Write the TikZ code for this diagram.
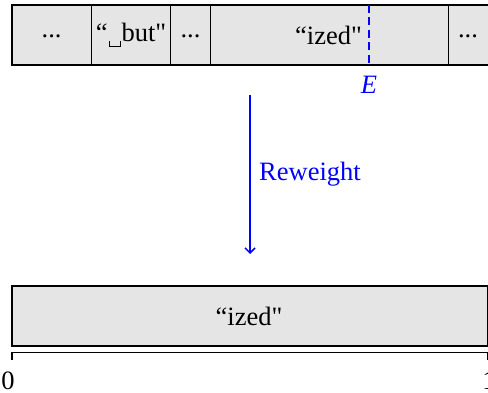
\documentclass[tikz,border=0pt]{standalone}
\usepackage{fontspec}
\setmainfont{Liberation Serif}
\usetikzlibrary{arrows.meta}
\newcommand{\vspc}{\raisebox{-0.22em}{\kern0.04em\rule{0.045em}{0.22em}\rule{0.38em}{0.045em}\rule{0.045em}{0.22em}\kern0.02em}}
\newcommand{\dq}{\textquotedbl}
\begin{document}
\begin{tikzpicture}[x=1pt,y=-1pt,
  tok/.style={draw=black,line width=1.4pt,fill=black!10},
  lbl/.style={font=\fontsize{26.5}{30}\selectfont,inner sep=0pt},
  blu/.style={font=\fontsize{26.5}{30}\selectfont,inner sep=0pt,text=blue}]
\useasboundingbox (0,0) rectangle (488,393);
\begin{scope}
\clip (0,0) rectangle (488,393);
% top bar
\path[tok] (12,5) rectangle (91.3,65);
\path[tok] (91.3,5) rectangle (170.7,65);
\path[tok] (170.7,5) rectangle (210.3,65);
\path[tok] (210.3,5) rectangle (448.7,65);
\path[tok] (448.7,5) rectangle (520,65);
\node[lbl] (d1) at (51.6,36) {...};
\node[lbl] (but) at (131,35) {“\vspc but\dq};
\node[lbl] (d2) at (190.5,36) {...};
\node[lbl] (iz1) at (328.5,35) {“ized\dq};
\node[lbl] (d3) at (468,36) {...};
\coordinate (et) at (369,5);
\coordinate (eb) at (369,65);
\draw[blue,line width=2pt,dash pattern=on 8pt off 4.5pt] (et) -- (eb);
\node[blu] (E) at (369,85) {\textit{E}};
% arrow
\coordinate (as) at (250,95);
\coordinate (ae) at (250,254);
\draw[blue,line width=1.5pt,-{Straight Barb[length=5pt,width=10pt]}] (as) -- (ae);
\node[blu,anchor=west] (rw) at (259,174) {Reweight};
% bottom bar
\path[tok] (12,286) rectangle (487.5,346);
\node[lbl] (iz2) at (249,316) {“ized\dq};
\coordinate (bl) at (12,360);
\coordinate (br) at (487.5,360);
\draw[line width=1.4pt] (bl) -- (12,352.7) -- (487.5,352.7) -- (br);
\node[lbl] (zero) at (8,381) {0};
\node[lbl] (one) at (489,381) {1};
\end{scope}
\end{tikzpicture}
\end{document}
